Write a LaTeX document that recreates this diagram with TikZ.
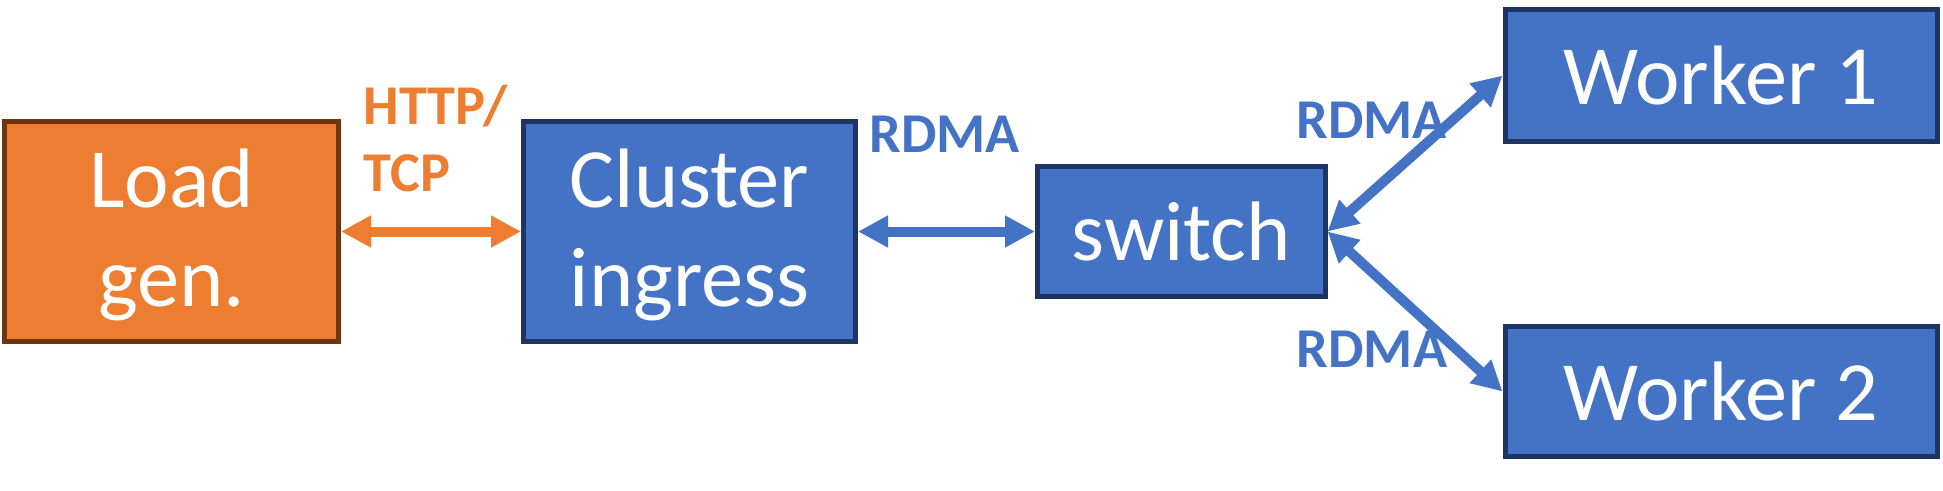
\documentclass[tikz,border=0pt]{standalone}
\usepackage{fontspec}
\setmainfont{Carlito}
\usetikzlibrary{arrows.meta, positioning}

\definecolor{genorange}{HTML}{ED7D31}
\definecolor{genbrown}{HTML}{6E3510}
\definecolor{nodeblue}{HTML}{4472C4}
\definecolor{nodenavy}{HTML}{1F3461}

\begin{document}
\begin{tikzpicture}[
            block/.style = {draw = nodenavy, fill = nodeblue, line width = 0.05cm, text = white,
                            font = \fontsize{24}{28.2}\selectfont, align = center, inner sep = 0pt},
            gen/.style = {block, draw = genbrown, fill = genorange},
            link/.style = {draw = nodeblue, line width = 0.1cm, > = {Triangle[length = 0.3cm, width = 0.3cm]}, <->},
            proto/.style = {text = nodeblue, font = \fontsize{16}{18.8}\selectfont\bfseries, inner sep = 0pt, anchor = base}
            ]
            \useasboundingbox (0,0) rectangle (19.43,4.9);
            \node[gen, minimum width = 3.34cm, minimum height = 2.2cm, text depth = 0.07cm] (load) at (1.715,2.585) {Load\\gen.};
            \node[block, minimum width = 3.32cm, minimum height = 2.2cm, text depth = 0.07cm, right = 1.8cm of load] (ingress) {Cluster\\ingress};
            \node[block, minimum width = 2.875cm, minimum height = 1.307cm, right = 1.77cm of ingress] (switch) {switch};
            \node[block, minimum width = 4.32cm, minimum height = 1.32cm, right = 1.75cm of switch, yshift = 1.56cm] (worker1) {Worker 1};
            \node[block, minimum width = 4.32cm, minimum height = 1.305cm, right = 1.75cm of switch, yshift = -1.6cm] (worker2) {Worker 2};

            \draw[link, draw = genorange] (load) -- (ingress);
            \draw[link] (ingress) -- (switch);
            \draw[link] (switch.east) -- (worker1.west);
            \draw[link] (switch.east) -- (worker2.west);

            \node[proto, text = genorange, align = left, anchor = base west] (http) at (3.63,2.99) {HTTP/\\TCP};
            \node[proto] (rdma) at (9.445,3.38) {RDMA};
            \node[proto] (rdmaup) at (13.715,3.517) {RDMA};
            \node[proto] (rdmadown) at (13.72,1.23) {RDMA};
\end{tikzpicture}
\end{document}
